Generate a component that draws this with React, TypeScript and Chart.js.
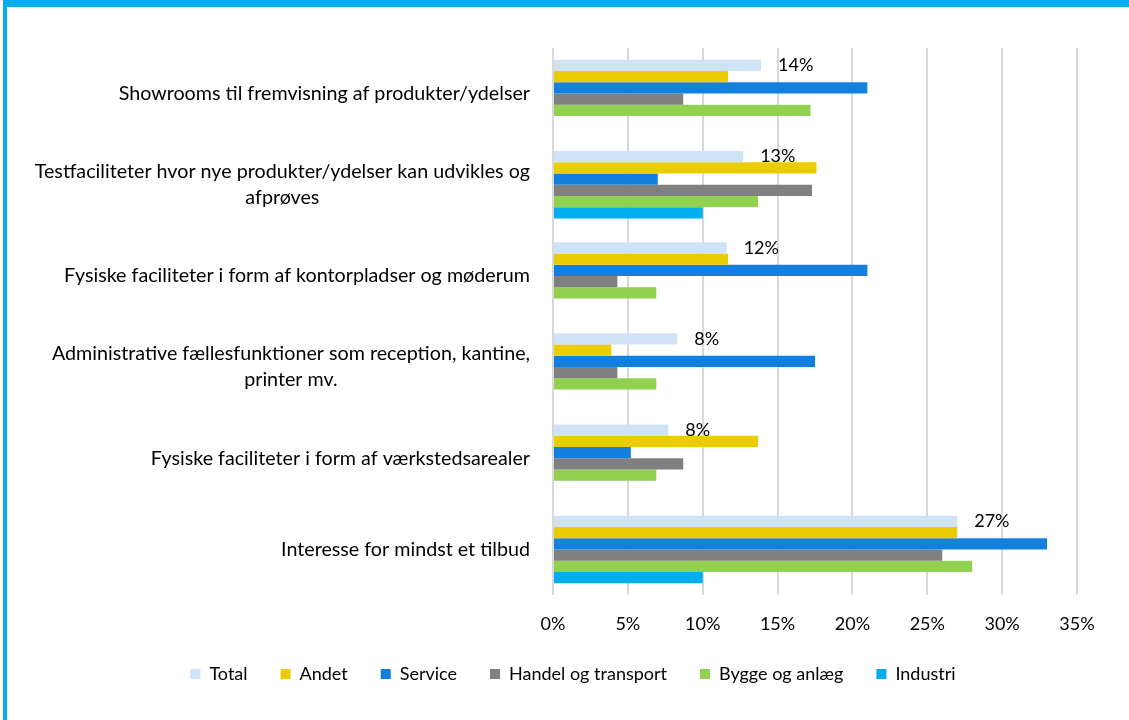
import React, { useEffect, useRef } from 'react';
import { Chart, registerables } from 'chart.js';

Chart.register(...registerables);

const categories: string[][] = [
  ['Showrooms til fremvisning af produkter/ydelser'],
  ['Testfaciliteter hvor nye produkter/ydelser kan udvikles og', 'afprøves'],
  ['Fysiske faciliteter i form af kontorpladser og møderum'],
  ['Administrative fællesfunktioner som reception, kantine,', 'printer mv.'],
  ['Fysiske faciliteter i form af værkstedsarealer'],
  ['Interesse for mindst et tilbud'],
];

const seriesNames = ['Total', 'Andet', 'Service', 'Handel og transport', 'Bygge og anlæg', 'Industri'];
const seriesColors = ['#CFE3F8', '#EACD00', '#1380E0', '#808080', '#92D050', '#00AEEF'];

const total = [13.9, 12.7, 11.6, 8.3, 7.7, 27.0];
const andet = [11.7, 17.6, 11.7, 3.9, 13.7, 27.0];
const service = [21.0, 7.0, 21.0, 17.5, 5.2, 33.0];
const handel = [8.7, 17.3, 4.3, 4.3, 8.7, 26.0];
const bygge = [17.2, 13.7, 6.9, 6.9, 6.9, 28.0];
const industri = [0, 10.0, 0, 0, 0, 10.0];

const seriesValues = [total, andet, service, handel, bygge, industri];

const xMin = 0;
const xMax = 35;
const xStep = 5;

const FONT_FAMILY = 'Lato, "Open Sans", sans-serif';
const LABEL_SIZE = 19.7;
const FONT_SIZE = 18;

const yLabelPlugin = {
  id: 'yLabelPlugin',
  afterDraw(chart: any) {
    const ctx = chart.ctx;
    const yScale = chart.scales.y;
    ctx.save();
    ctx.font = `${LABEL_SIZE}px ${FONT_FAMILY}`;
    ctx.fillStyle = '#000000';
    ctx.textAlign = 'center';
    ctx.textBaseline = 'middle';
    const right = chart.chartArea.left - 23;
    const lineHeight = 26;
    categories.forEach((lines, i) => {
      const cy = yScale.getPixelForValue(i);
      const w = Math.max(...lines.map((l) => ctx.measureText(l).width));
      const cx = right - w / 2;
      lines.forEach((l, j) => {
        ctx.fillText(l, cx, cy + (j - (lines.length - 1) / 2) * lineHeight);
      });
    });
    ctx.restore();
  },
};

const totalLabelPlugin = {
  id: 'totalLabelPlugin',
  afterDatasetsDraw(chart: any) {
    const ctx = chart.ctx;
    const meta = chart.getDatasetMeta(0);
    ctx.save();
    ctx.font = `${FONT_SIZE}px ${FONT_FAMILY}`;
    ctx.fillStyle = '#000000';
    ctx.textAlign = 'left';
    ctx.textBaseline = 'middle';
    meta.data.forEach((bar: any, i: number) => {
      const v = total[i];
      ctx.fillText(`${Math.round(v)}%`, bar.x + 17, bar.y);
    });
    ctx.restore();
  },
};

export default function App() {
  const canvasRef = useRef<HTMLCanvasElement | null>(null);

  useEffect(() => {
    document.body.style.margin = '0';
    const canvas = canvasRef.current;
    if (!canvas) return;
    const chart = new Chart(canvas, {
      type: 'bar',
      data: {
        labels: categories.map((c) => c.join(' ')),
        datasets: seriesNames.map((name, i) => ({
          label: name,
          data: seriesValues[i],
          backgroundColor: seriesColors[i],
          borderWidth: 0,
          barPercentage: 1,
          categoryPercentage: 0.74,
        })),
      },
      options: {
        indexAxis: 'y',
        animation: false,
        responsive: false,
        maintainAspectRatio: false,
        layout: { padding: { top: 48, right: 52, bottom: 27, left: 69 } },
        scales: {
          x: {
            min: xMin,
            max: xMax,
            ticks: {
              stepSize: xStep,
              padding: 18,
              color: '#000000',
              font: { family: FONT_FAMILY, size: FONT_SIZE },
              callback: (v: any) => `${v}%`,
            },
            grid: { color: '#D9D9D9', lineWidth: 2, drawTicks: false },
            border: { display: false },
            afterFit: (s: any) => {
              s.height = 37;
            },
          },
          y: {
            ticks: { display: false },
            grid: { display: false },
            border: { display: false },
            afterFit: (s: any) => {
              s.width = 484;
            },
          },
        },
        plugins: {
          legend: {
            position: 'bottom',
            labels: {
              boxWidth: 10,
              boxHeight: 10,
              padding: 33,
              color: '#000000',
              font: { family: FONT_FAMILY, size: FONT_SIZE },
            },
          },
          tooltip: { enabled: false },
        },
      },
      plugins: [yLabelPlugin, totalLabelPlugin],
    });
    return () => chart.destroy();
  }, []);

  return (
    <div style={{ position: 'relative', width: 1129, height: 720, background: '#ffffff', overflow: 'hidden' }}>
      <canvas ref={canvasRef} width={1129} height={720} style={{ position: 'absolute', left: 0, top: 0 }} />
      <div
        style={{
          position: 'absolute',
          left: 3,
          top: 0,
          right: 0,
          bottom: 0,
          borderTop: '7px solid #00ADEF',
          borderLeft: '4px solid #00ADEF',
          pointerEvents: 'none',
        }}
      />
    </div>
  );
}
